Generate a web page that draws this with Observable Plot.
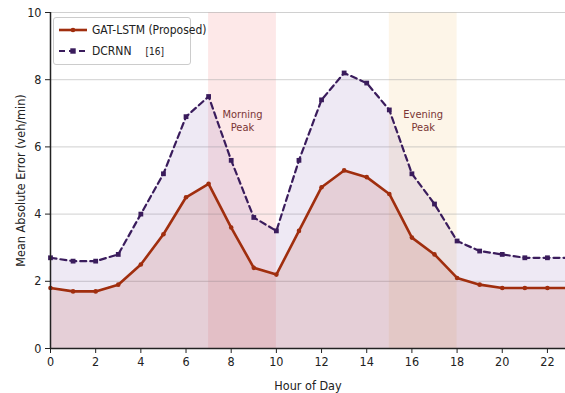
<!DOCTYPE html>
<html>
<head>
<meta charset="utf-8">
<script src="https://cdn.jsdelivr.net/npm/d3@7"></script>
<script src="https://cdn.jsdelivr.net/npm/@observablehq/plot@0.6"></script>
<style>
  body { margin: 0; background: #fff; }
  #wrap { position: relative; width: 565px; height: 393px; font-family: "DejaVu Sans Condensed", "DejaVu Sans", sans-serif; }
  #legend { position: absolute; left: 53px; top: 17px; width: 136px; height: 46px; background: rgba(255,255,255,0.92); border: 1px solid #ccc; border-radius: 3px; font-size: 12px; color: #222; white-space: nowrap; }
  .row { position: absolute; left: 5px; display: flex; align-items: center; white-space: nowrap; }
  .row span { margin-left: 5px; }
</style>
</head>
<body>
<div id="wrap"></div>
<script>
const hours = [0,1,2,3,4,5,6,7,8,9,10,11,12,13,14,15,16,17,18,19,20,21,22,23];
const gatLstm = [1.8,1.7,1.7,1.9,2.5,3.4,4.5,4.9,3.6,2.4,2.2,3.5,4.8,5.3,5.1,4.6,3.3,2.8,2.1,1.9,1.8,1.8,1.8,1.8];
const dcrnn = [2.7,2.6,2.6,2.8,4.0,5.2,6.9,7.5,5.6,3.9,3.5,5.6,7.4,8.2,7.9,7.1,5.2,4.3,3.2,2.9,2.8,2.7,2.7,2.7];
const seriesNames = ["GAT-LSTM (Proposed)", "DCRNN"];
const peaks = [
  {name: "Morning\nPeak", start: 7, end: 10, fill: "#fbd9d9"},
  {name: "Evening\nPeak", start: 15, end: 18, fill: "#fcefd8"}
];
const xTicks = [0,2,4,6,8,10,12,14,16,18,20,22];
const yTicks = [0,2,4,6,8,10];

const gatColor = "#a02e0e";
const dcColor = "#3a1c5c";

const gatData = hours.map((h,i) => ({h, v: gatLstm[i]}));
const dcData = hours.map((h,i) => ({h, v: dcrnn[i]}));

const chart = Plot.plot({
  width: 565,
  height: 393,
  marginLeft: 50,
  marginRight: 0,
  marginTop: 12,
  marginBottom: 45,
  style: {fontFamily: "'DejaVu Sans Condensed', 'DejaVu Sans', sans-serif", fontSize: "12px", color: "#222", background: "transparent"},
  x: {domain: [0, 22.8]},
  y: {domain: [0, 10]},
  marks: [
    Plot.rect(peaks, {x1: "start", x2: "end", y1: 0, y2: 10, fill: "fill", fillOpacity: 0.6}),
    Plot.gridY(yTicks.filter(d => d > 0), {stroke: "#aaa", strokeOpacity: 0.55}),
    Plot.areaY(dcData, {x: "h", y: "v", fill: "#8a6cb8", fillOpacity: 0.15}),
    Plot.areaY(gatData, {x: "h", y: "v", fill: "#b8554a", fillOpacity: 0.17}),
    Plot.text(peaks, {x: d => (d.start + d.end) / 2, y: 6.8, text: "name", fill: "#7a3535", fontSize: 11, lineHeight: 1.2}),
    Plot.line(dcData, {x: "h", y: "v", stroke: dcColor, strokeWidth: 2.2, strokeDasharray: "6,4"}),
    Plot.dot(dcData, {x: "h", y: "v", symbol: "square", r: 2.7, fill: dcColor}),
    Plot.line(gatData, {x: "h", y: "v", stroke: gatColor, strokeWidth: 2.6}),
    Plot.dot(gatData, {x: "h", y: "v", r: 2.3, fill: gatColor}),
    Plot.axisX({ticks: xTicks, tickFormat: d => d, tickSize: 5, fontSize: 12.5, label: "Hour of Day", labelAnchor: "center", labelArrow: "none", labelOffset: 41}),
    Plot.axisY({ticks: yTicks, tickSize: 5, fontSize: 12.5, label: "Mean Absolute Error (veh/min)", labelAnchor: "center", labelArrow: "none", labelOffset: 34}),
    Plot.ruleY([0], {stroke: "#222", strokeWidth: 1.5}),
    Plot.ruleX([0], {stroke: "#222", strokeWidth: 1.5})
  ]
});
const wrap = document.getElementById("wrap");
wrap.appendChild(chart);

const legend = document.createElement("div");
legend.id = "legend";
legend.innerHTML = `
  <div class="row" style="top:5px"><svg width="28" height="10"><line x1="0" y1="5" x2="28" y2="5" stroke="${gatColor}" stroke-width="2.6"/><circle cx="14" cy="5" r="2.3" fill="${gatColor}"/></svg><span>${seriesNames[0]}</span></div>
  <div class="row" style="top:26px"><svg width="28" height="10"><line x1="0" y1="5" x2="28" y2="5" stroke="${dcColor}" stroke-width="2.2" stroke-dasharray="6,4"/><rect x="11.3" y="2.3" width="5.4" height="5.4" fill="${dcColor}"/></svg><span>${seriesNames[1]}</span><span style="margin-left:14px;font-size:10px">[16]</span></div>`;
wrap.appendChild(legend);
</script>
</body>
</html>
